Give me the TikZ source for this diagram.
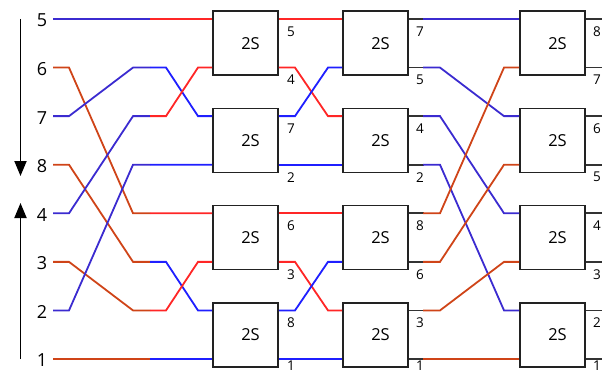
\documentclass[tikz,border=0pt]{standalone}
\usepackage{fontspec}
\setmainfont{Open Sans}
\usetikzlibrary{arrows.meta}
\definecolor{dblue}{HTML}{3B2BD0}
\definecolor{bblue}{HTML}{1F1FFF}
\definecolor{wred}{HTML}{FF2626}
\definecolor{worange}{HTML}{CF4418}
\definecolor{stubc}{HTML}{333333}
\definecolor{boxline}{HTML}{222222}
\begin{document}
\begin{tikzpicture}[x=1pt,y=-1pt,
  wire/.style={line width=1.8pt},
  wdb/.style={wire,draw=dblue},
  wbb/.style={wire,draw=bblue},
  wrd/.style={wire,draw=wred},
  wor/.style={wire,draw=worange},
  wst/.style={wire,draw=stubc},
  sbox/.style={draw=boxline,line width=1.8pt,fill=white,minimum width=65pt,minimum height=64pt,inner sep=0pt,font=\fontsize{16.5}{18}\selectfont},
  inl/.style={inner sep=0pt,font=\fontsize{18}{20}\selectfont},
  outl/.style={inner sep=0pt,font=\fontsize{13.5}{15}\selectfont},
  dirarrow/.style={line width=1.8pt,draw=black,-{Triangle[width=12pt,length=15pt]}}]
\useasboundingbox (0,0) rectangle (609,374);
\def\ya{19}\def\yb{67.57}\def\yc{116.14}\def\yd{164.71}
\def\ye{213.29}\def\yf{261.86}\def\yg{310.43}\def\yh{359}
% boxes
\foreach \s/\x in {1/245.5,2/375.5,3/552.5}{
  \foreach \r/\y in {1/43.29,2/140.43,3/237.57,4/334.71}{
    \node[sbox] (b\r\s) at (\x,\y) {\hspace*{10pt}2S};
    \coordinate (b\r\s i1) at ([yshift=24.29pt]b\r\s.west);
    \coordinate (b\r\s i2) at ([yshift=-24.29pt]b\r\s.west);
    \coordinate (b\r\s o1) at ([yshift=24.29pt]b\r\s.east);
    \coordinate (b\r\s o2) at ([yshift=-24.29pt]b\r\s.east);
  }
}
% left labels
\foreach \t/\y in {5/\ya,6/\yb,7/\yc,8/\yd,4/\ye,3/\yf,2/\yg,1/\yh}{
  \node[inl] (l\t) at (42,\y+1.5) {\t};
  \coordinate (s\t) at (53,\y);
}
% direction arrows
\coordinate (da1) at (20.5,19);
\coordinate (da2) at (20.5,176);
\coordinate (ua1) at (20.5,359);
\coordinate (ua2) at (20.5,203);
\draw[dirarrow] (da1) -- (da2);
\draw[dirarrow] (ua1) -- (ua2);
% stage 0 -> 1
\draw[wdb] (s5) -- (150,\ya);
\draw[wrd] (150,\ya) -- (b11i1);
\draw[wor] (s6) -- (69,\yb) -- (133,\ye) -- (150,\ye);
\draw[wrd] (150,\ye) -- (b31i1);
\draw[wdb] (s7) -- (69,\yc) -- (133,\yb) -- (150,\yb);
\draw[wbb] (150,\yb) -- (166,\yb) -- (198,\yc) -- (b21i1);
\draw[wor] (s8) -- (69,\yd) -- (133,\yf) -- (150,\yf);
\draw[wbb] (150,\yf) -- (166,\yf) -- (198,\yg) -- (b41i1);
\draw[wdb] (s4) -- (69,\ye) -- (133,\yc) -- (150,\yc);
\draw[wrd] (150,\yc) -- (166,\yc) -- (198,\yb) -- (b11i2);
\draw[wor] (s3) -- (69,\yf) -- (133,\yg) -- (150,\yg);
\draw[wrd] (150,\yg) -- (166,\yg) -- (198,\yf) -- (b31i2);
\draw[wdb] (s2) -- (69,\yg) -- (133,\yd) -- (150,\yd);
\draw[wbb] (150,\yd) -- (b21i2);
\draw[wor] (s1) -- (150,\yh);
\draw[wbb] (150,\yh) -- (b41i2);
% stage 1 -> 2
\draw[wrd] (b11o1) -- (b12i1);
\draw[wrd] (b11o2) -- (295,\yb) -- (328,\yc) -- (b22i1);
\draw[wbb] (b21o1) -- (295,\yc) -- (328,\yb) -- (b12i2);
\draw[wbb] (b21o2) -- (b22i2);
\draw[wrd] (b31o1) -- (b32i1);
\draw[wrd] (b31o2) -- (295,\yf) -- (328,\yg) -- (b42i1);
\draw[wbb] (b41o1) -- (295,\yg) -- (328,\yf) -- (b32i2);
\draw[wbb] (b41o2) -- (b42i2);
% stage 2 -> 3
\foreach \r in {1,2,3,4}{
  \draw[wst] (b\r2o1) -- ++(15,0);
  \draw[wst] (b\r2o2) -- ++(15,0);
  \draw[wst] (b\r3o1) -- ++(16,0);
  \draw[wst] (b\r3o2) -- ++(16,0);
}
\draw[wdb] (423,\ya) -- (b13i1);
\draw[wdb] (423,\yb) -- (440,\yb) -- (504,\yc) -- (b23i1);
\draw[wdb] (423,\yc) -- (440,\yc) -- (504,\ye) -- (b33i1);
\draw[wdb] (423,\yd) -- (440,\yd) -- (504,\yg) -- (b43i1);
\draw[wor] (423,\ye) -- (440,\ye) -- (504,\yb) -- (b13i2);
\draw[wor] (423,\yf) -- (440,\yf) -- (504,\yd) -- (b23i2);
\draw[wor] (423,\yg) -- (440,\yg) -- (504,\yf) -- (b33i2);
\draw[wor] (423,\yh) -- (b43i2);
% output labels
\foreach \x/\la/\lb/\lc/\ld/\le/\lf/\lg/\lh in {291/5/4/7/2/6/3/8/1, 420/7/5/4/2/8/6/3/1, 597/8/7/6/5/4/3/2/1}{
  \foreach \t/\y/\dy in {\la/\ya/12.5,\lb/\yb/12.5,\lc/\yc/12.5,\ld/\yd/12.5,\le/\ye/12.5,\lf/\yf/12.5,\lg/\yg/12.5,\lh/\yh/7}{
    \node[outl] at (\x,\y+\dy) {\t};
  }
}
\end{tikzpicture}
\end{document}
